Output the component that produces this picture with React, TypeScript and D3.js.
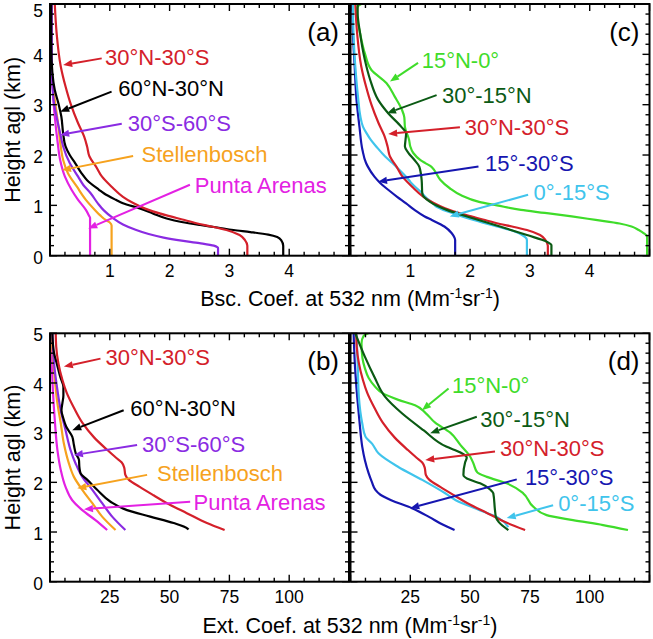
import React from 'react';
import * as d3 from 'd3';

// [height agl (km), coefficient]
type Pt = [number, number];

// ---------- Backscatter coefficient (Mm-1 sr-1) ----------
const bsc30N30S: Pt[] = [[0, 3.3], [0.2, 3.3], [0.31, 3.26], [0.41, 3.17], [0.51, 2.95], [0.58, 2.7], [0.63, 2.5], [0.71, 2.25], [0.8, 1.95], [0.88, 1.72], [0.94, 1.58], [1.04, 1.4], [1.17, 1.22], [1.37, 1.03], [1.57, 0.87], [1.77, 0.77], [1.97, 0.66], [2.17, 0.62], [2.37, 0.57], [2.63, 0.47], [3.0, 0.35], [3.36, 0.26], [3.76, 0.18], [4.43, 0.11], [5.0, 0.08]];
const bsc60N30N: Pt[] = [[0, 3.9], [0.2, 3.9], [0.3, 3.87], [0.37, 3.8], [0.42, 3.65], [0.47, 3.35], [0.51, 3.07], [0.56, 2.8], [0.61, 2.51], [0.67, 2.2], [0.74, 1.95], [0.84, 1.72], [0.94, 1.5], [1.04, 1.22], [1.11, 1.1], [1.24, 0.9], [1.31, 0.82], [1.5, 0.62], [1.65, 0.52], [1.84, 0.42], [2.0, 0.33], [2.17, 0.26], [2.43, 0.22], [2.76, 0.19], [3.03, 0.14], [3.29, 0.08], [3.63, 0.04], [4.2, 0.02], [5.0, 0.02]];
const bsc30S60S: Pt[] = [[0, 2.81], [0.15, 2.81], [0.2, 2.74], [0.25, 2.5], [0.3, 2.2], [0.36, 1.9], [0.43, 1.65], [0.52, 1.42], [0.62, 1.22], [0.75, 1.05], [0.9, 0.9], [1.04, 0.8], [1.24, 0.68], [1.4, 0.56], [1.57, 0.47], [1.84, 0.33], [2.17, 0.22], [2.43, 0.17], [2.76, 0.11], [3.09, 0.06], [3.76, 0.03], [5.0, 0.03]];
const bscStellenbosch: Pt[] = [[0, 1.03], [0.6, 1.03], [0.66, 1.0], [0.71, 0.93], [0.8, 0.84], [0.91, 0.75], [1.11, 0.6], [1.37, 0.45], [1.64, 0.3], [1.9, 0.22], [2.17, 0.18], [2.57, 0.14], [3.09, 0.08], [3.43, 0.04], [3.76, 0.02], [5.0, 0.02]];
const bscPuntaArenas: Pt[] = [[0, 0.67], [0.75, 0.67], [0.8, 0.65], [0.91, 0.6], [1.11, 0.47], [1.31, 0.36], [1.57, 0.25], [1.9, 0.17], [2.23, 0.13], [2.76, 0.08], [3.43, 0.04], [4.42, 0.01], [5.0, 0.01]];
const bsc15N0: Pt[] = [[0, 4.96], [0.38, 4.96], [0.45, 4.9], [0.51, 4.82], [0.58, 4.7], [0.64, 4.5], [0.71, 4.1], [0.78, 3.7], [0.85, 3.25], [0.91, 2.85], [1.0, 2.45], [1.07, 2.15], [1.2, 1.85], [1.34, 1.66], [1.51, 1.5], [1.7, 1.4], [1.77, 1.35], [1.84, 1.25], [1.9, 1.17], [2.04, 1.05], [2.17, 1.0], [2.3, 0.98], [2.56, 0.91], [2.75, 0.9], [2.9, 0.86], [3.16, 0.74], [3.43, 0.6], [3.69, 0.35], [4.02, 0.24], [4.42, 0.16], [4.85, 0.1], [4.95, 0.12], [5.0, 0.18]];
const bsc30S15N: Pt[] = [[0, 3.36], [0.21, 3.36], [0.28, 3.28], [0.41, 2.95], [0.58, 2.5], [0.74, 2.06], [0.91, 1.61], [1.07, 1.33], [1.24, 1.2], [1.5, 1.19], [1.77, 1.15], [1.9, 1.07], [2.04, 0.97], [2.17, 0.91], [2.3, 0.92], [2.43, 0.93], [2.56, 0.85], [2.83, 0.63], [3.1, 0.46], [3.49, 0.33], [3.89, 0.24], [4.42, 0.16], [4.82, 0.12], [5.0, 0.12]];
const bsc0S15S: Pt[] = [[0, 2.95], [0.31, 2.95], [0.41, 2.87], [0.5, 2.7], [0.58, 2.45], [0.71, 2.06], [0.84, 1.72], [0.91, 1.55], [0.97, 1.44], [1.04, 1.38], [1.17, 1.25], [1.24, 1.2], [1.44, 1.02], [1.5, 0.98], [1.7, 0.82], [1.84, 0.7], [1.97, 0.58], [2.17, 0.43], [2.3, 0.34], [2.43, 0.27], [2.56, 0.21], [2.8, 0.16], [3.1, 0.13], [3.76, 0.08], [4.42, 0.05], [5.0, 0.04]];
const bsc15S30S: Pt[] = [[0, 1.75], [0.31, 1.75], [0.38, 1.73], [0.45, 1.69], [0.58, 1.57], [0.71, 1.36], [0.78, 1.24], [0.91, 1.07], [1.04, 0.93], [1.17, 0.78], [1.31, 0.63], [1.44, 0.5], [1.57, 0.4], [1.77, 0.29], [1.84, 0.26], [2.1, 0.2], [2.56, 0.15], [3.1, 0.1], [3.76, 0.07], [4.42, 0.04], [5.0, 0.03]];

// ---------- Extinction coefficient (Mm-1) ----------
const ext30N30S: Pt[] = [[1.04, 73], [1.18, 65.6], [1.38, 57.2], [1.58, 48.9], [1.74, 43.3], [1.91, 37.5], [2.05, 33], [2.15, 31.5], [2.3, 31], [2.4, 30], [2.5, 27.5], [2.65, 24], [2.9, 18.5], [3.2, 13.5], [3.5, 10], [3.8, 7], [4.06, 5.2], [4.4, 3.5], [4.73, 2.6], [5.0, 2.4]];
const ext60N30N: Pt[] = [[1.05, 57.9], [1.07, 57.5], [1.18, 51.7], [1.31, 41.9], [1.44, 32.2], [1.61, 25.3], [1.85, 19.7], [2.05, 15.6], [2.18, 12.8], [2.3, 12.3], [2.45, 12.1], [2.58, 10.8], [2.75, 10], [2.92, 9.3], [3.12, 6.8], [3.3, 5.5], [3.45, 4.8], [3.6, 5.2], [3.75, 5.6], [3.92, 5.6], [4.12, 4.3], [4.4, 2.8], [4.6, 1.7], [4.8, 1.2], [5.0, 1.0]];
const ext30S60S: Pt[] = [[1.04, 31.5], [1.31, 26], [1.58, 21.8], [1.85, 17.7], [2.11, 13.5], [2.38, 10.7], [2.65, 8.6], [3.05, 6.5], [3.45, 4.5], [3.86, 3.1], [4.39, 1.7], [5.0, 1.0]];
const extStellenbosch: Pt[] = [[1.04, 27.4], [1.31, 21.8], [1.58, 17.7], [1.85, 13.5], [2.11, 10], [2.38, 7.9], [2.78, 5.8], [3.19, 4.5], [3.59, 3.1], [4.26, 1.7], [5.0, 0.5]];
const extPuntaArenas: Pt[] = [[1.04, 23.9], [1.24, 19], [1.44, 13.5], [1.64, 9.3], [1.91, 6.5], [2.25, 4.5], [2.65, 3.1], [3.19, 2.1], [3.86, 1.2], [5.0, 0.5]];
const ext15N0: Pt[] = [[1.04, 116], [1.14, 105.6], [1.24, 93], [1.34, 82], [1.51, 76.4], [1.78, 72.2], [1.98, 65.3], [2.11, 57], [2.2, 53], [2.38, 51.4], [2.52, 50], [2.75, 46], [3.0, 41.7], [3.2, 35.4], [3.4, 31.3], [3.55, 27], [3.66, 20], [3.8, 13.2], [3.92, 10.4], [4.1, 7.6], [4.3, 6.0], [4.5, 5.0], [4.8, 4.6], [4.95, 5.5], [5.0, 7.5]];
const ext30S15N: Pt[] = [[1.04, 66], [1.2, 62], [1.3, 60.8], [1.44, 60.4], [1.78, 59.7], [1.85, 58.5], [1.98, 54.2], [2.05, 50], [2.15, 47.2], [2.4, 47.9], [2.5, 48.6], [2.6, 46], [2.72, 40], [3.05, 30.5], [3.39, 21.5], [3.72, 14.5], [4.12, 10], [4.53, 6], [5.0, 2.0]];
const ext0S15S: Pt[] = [[1.1, 66], [1.28, 62], [1.44, 54], [1.64, 44], [1.78, 39.6], [2.05, 30], [2.31, 20], [2.58, 11.8], [2.78, 9], [2.92, 6.25], [3.19, 4.9], [3.72, 3.5], [4.4, 3.0], [5.0, 2.5]];
const ext15S30S: Pt[] = [[1.04, 43.5], [1.15, 38.5], [1.3, 33], [1.48, 25.7], [1.64, 17], [1.75, 12.5], [1.85, 10.4], [2.0, 9], [2.18, 7.6], [2.45, 6], [2.72, 4.9], [3.2, 3.8], [3.72, 2.8], [4.4, 1.8], [5.0, 1.3]];

// ---------- tick labels ----------
const heightTickLabels = [0, 1, 2, 3, 4, 5];
const bscTickLabels = [1, 2, 3, 4];
const extTickLabels = [25, 50, 75, 100];

const C = {
  red: '#d4202a',
  black: '#000000',
  purple: '#8a2be2',
  orange: '#f6a21e',
  magenta: '#e321e3',
  green: '#3fdc2a',
  dkgreen: '#0b5a14',
  blue: '#1616b0',
  lblue: '#40c4ec',
};

type Series = { data: Pt[]; color: string };
type Ann = { text: string; color: string; tv: number; th: number; sv: number; sh: number; ev: number; eh: number };

const seriesA: Series[] = [
  { data: bscPuntaArenas, color: C.magenta },
  { data: bscStellenbosch, color: C.orange },
  { data: bsc30S60S, color: C.purple },
  { data: bsc60N30N, color: C.black },
  { data: bsc30N30S, color: C.red },
];
const seriesC: Series[] = [
  { data: bsc15N0, color: C.green },
  { data: bsc15S30S, color: C.blue },
  { data: bsc0S15S, color: C.lblue },
  { data: bsc30N30S, color: C.red },
  { data: bsc30S15N, color: C.dkgreen },
];
const seriesB: Series[] = [
  { data: extPuntaArenas, color: C.magenta },
  { data: extStellenbosch, color: C.orange },
  { data: ext30S60S, color: C.purple },
  { data: ext60N30N, color: C.black },
  { data: ext30N30S, color: C.red },
];
const seriesD: Series[] = [
  { data: ext15N0, color: C.green },
  { data: ext15S30S, color: C.blue },
  { data: ext0S15S, color: C.lblue },
  { data: ext30N30S, color: C.red },
  { data: ext30S15N, color: C.dkgreen },
];

const annA: Ann[] = [
  { text: '30°N-30°S', color: C.red, tv: 0.92, th: 3.95, sv: 0.865, sh: 3.92, ev: 0.22, eh: 3.79 },
  { text: '60°N-30°N', color: C.black, tv: 1.14, th: 3.33, sv: 1.03, sh: 3.26, ev: 0.17, eh: 2.86 },
  { text: '30°S-60°S', color: C.purple, tv: 1.3, th: 2.64, sv: 1.2, sh: 2.62, ev: 0.17, eh: 2.4 },
  { text: 'Stellenbosch', color: C.orange, tv: 1.53, th: 2.02, sv: 1.39, sh: 1.98, ev: 0.2, eh: 1.7 },
  { text: 'Punta Arenas', color: C.magenta, tv: 2.42, th: 1.41, sv: 2.34, sh: 1.41, ev: 0.64, eh: 0.54 },
];
const annC: Ann[] = [
  { text: '15°N-0°', color: C.green, tv: 1.19, th: 3.89, sv: 1.13, sh: 3.83, ev: 0.66, eh: 3.46 },
  { text: '30°-15°N', color: C.dkgreen, tv: 1.53, th: 3.19, sv: 1.44, sh: 3.19, ev: 0.61, eh: 2.83 },
  { text: '30°N-30°S', color: C.red, tv: 1.91, th: 2.56, sv: 1.83, sh: 2.55, ev: 0.63, eh: 2.42 },
  { text: '15°-30°S', color: C.blue, tv: 2.25, th: 1.84, sv: 2.14, sh: 1.77, ev: 0.46, eh: 1.47 },
  { text: '0°-15°S', color: C.lblue, tv: 3.06, th: 1.27, sv: 2.97, sh: 1.21, ev: 1.66, eh: 0.78 },
];
const annB: Ann[] = [
  { text: '30°N-30°S', color: C.red, tv: 23.2, th: 4.53, sv: 21.1, sh: 4.49, ev: 5.8, eh: 4.33 },
  { text: '60°N-30°N', color: C.black, tv: 33.6, th: 3.49, sv: 30.8, sh: 3.45, ev: 9.3, eh: 3.05 },
  { text: '30°S-60°S', color: C.purple, tv: 38.5, th: 2.77, sv: 36.4, sh: 2.75, ev: 10, eh: 2.55 },
  { text: 'Stellenbosch', color: C.orange, tv: 44.75, th: 2.18, sv: 40.6, sh: 2.15, ev: 11.4, eh: 1.88 },
  { text: 'Punta Arenas', color: C.magenta, tv: 60, th: 1.61, sv: 58.6, sh: 1.61, ev: 14.2, eh: 1.46 },
];
const annD: Ann[] = [
  { text: '15°N-0°', color: C.green, tv: 42.4, th: 3.96, sv: 41, sh: 3.89, ev: 29.9, eh: 3.45 },
  { text: '30°-15°N', color: C.dkgreen, tv: 54.2, th: 3.27, sv: 52.8, sh: 3.32, ev: 33.3, eh: 2.99 },
  { text: '30°N-30°S', color: C.red, tv: 62.5, th: 2.68, sv: 60.4, sh: 2.62, ev: 31.25, eh: 2.45 },
  { text: '15°-30°S', color: C.blue, tv: 72.9, th: 2.11, sv: 69.5, sh: 2.06, ev: 25, eh: 1.48 },
  { text: '0°-15°S', color: C.lblue, tv: 86.8, th: 1.59, sv: 84.7, sh: 1.54, ev: 65.3, eh: 1.28 },
];

const FONT = '"Liberation Sans", Arial, Helvetica, sans-serif';

type PanelCfg = {
  id: string;
  letter: string;
  x0: number; x1: number; y0: number; y1: number;
  xmax: number; xMajor: number; xMinor: number; xLabels: number[];
  yLabels: boolean;
  series: Series[];
  ann: Ann[];
};

const LEFT = [50, 349];
const RIGHT = [350.5, 649.5];
const TOPR = [4, 255.7];
const BOTR = [333.3, 581.7];

const panels: PanelCfg[] = [
  { id: 'a', letter: '(a)', x0: LEFT[0], x1: LEFT[1], y0: TOPR[0], y1: TOPR[1], xmax: 5, xMajor: 1, xMinor: 0.25, xLabels: bscTickLabels, yLabels: true, series: seriesA, ann: annA },
  { id: 'c', letter: '(c)', x0: RIGHT[0], x1: RIGHT[1], y0: TOPR[0], y1: TOPR[1], xmax: 5, xMajor: 1, xMinor: 0.25, xLabels: bscTickLabels, yLabels: false, series: seriesC, ann: annC },
  { id: 'b', letter: '(b)', x0: LEFT[0], x1: LEFT[1], y0: BOTR[0], y1: BOTR[1], xmax: 125, xMajor: 25, xMinor: 6.25, xLabels: extTickLabels, yLabels: true, series: seriesB, ann: annB },
  { id: 'd', letter: '(d)', x0: RIGHT[0], x1: RIGHT[1], y0: BOTR[0], y1: BOTR[1], xmax: 125, xMajor: 25, xMinor: 6.25, xLabels: extTickLabels, yLabels: false, series: seriesD, ann: annD },
];

function Panel({ p }: { p: PanelCfg }) {
  const x = d3.scaleLinear().domain([0, p.xmax]).range([p.x0, p.x1]);
  const y = d3.scaleLinear().domain([0, 5]).range([p.y1, p.y0]);
  const line = d3
    .line<Pt>()
    .x((d) => x(d[1]))
    .y((d) => y(d[0]))
    .curve(d3.curveMonotoneY);

  const xTicks: { v: number; major: boolean }[] = [];
  const nx = Math.round(p.xmax / p.xMinor);
  for (let i = 0; i <= nx; i++) {
    const v = i * p.xMinor;
    xTicks.push({ v, major: Math.abs(v / p.xMajor - Math.round(v / p.xMajor)) < 1e-6 });
  }
  const yTicks: { v: number; major: boolean }[] = [];
  for (let i = 0; i <= 25; i++) {
    const v = i * 0.2;
    yTicks.push({ v, major: i % 5 === 0 });
  }
  const MAJ = 7;
  const MIN = 4;
  const clipId = `clip-${p.id}`;

  return (
    <g>
      <defs>
        <clipPath id={clipId}>
          <rect x={p.x0} y={p.y0} width={p.x1 - p.x0} height={p.y1 - p.y0} />
        </clipPath>
      </defs>
      <g clipPath={`url(#${clipId})`}>
        {p.series.map((s, i) => (
          <path key={i} d={line(s.data) || ''} fill="none" stroke={s.color} strokeWidth={2.2} strokeLinejoin="round" />
        ))}
      </g>
      {/* ticks */}
      <g stroke="#000" strokeWidth={1.4}>
        {xTicks.map((t, i) => {
          const L = t.major ? MAJ : MIN;
          return (
            <g key={'x' + i}>
              <line x1={x(t.v)} x2={x(t.v)} y1={p.y1} y2={p.y1 - L} />
              <line x1={x(t.v)} x2={x(t.v)} y1={p.y0} y2={p.y0 + L} />
            </g>
          );
        })}
        {yTicks.map((t, i) => {
          const L = t.major ? MAJ : MIN;
          return (
            <g key={'y' + i}>
              <line x1={p.x0} x2={p.x0 + L} y1={y(t.v)} y2={y(t.v)} />
              <line x1={p.x1} x2={p.x1 - L} y1={y(t.v)} y2={y(t.v)} />
            </g>
          );
        })}
      </g>
      <rect x={p.x0} y={p.y0} width={p.x1 - p.x0} height={p.y1 - p.y0} fill="none" stroke="#000" strokeWidth={2} />
      {/* tick labels */}
      {p.xLabels.map((v) => (
        <text key={'xl' + v} x={x(v)} y={p.y1 + 21} textAnchor="middle" fontSize={17.5} fontFamily={FONT}>
          {v}
        </text>
      ))}
      {p.yLabels &&
        heightTickLabels.map((v) => {
          const center = Math.max(y(v) + 1.5, 11);
          return (
            <text key={'yl' + v} x={p.x0 - 7} y={center + 6.3} textAnchor="end" fontSize={17.5} fontFamily={FONT}>
              {v}
            </text>
          );
        })}
      {/* annotations */}
      {p.ann.map((a, i) => {
        const sx = x(a.sv), sy = y(a.sh), ex = x(a.ev), ey = y(a.eh);
        const ang = Math.atan2(ey - sy, ex - sx);
        const AL = 9, AW = 3.6;
        const bx = ex - AL * Math.cos(ang), by = ey - AL * Math.sin(ang);
        const px = -Math.sin(ang), py = Math.cos(ang);
        const head = `${ex},${ey} ${bx + AW * px},${by + AW * py} ${bx - AW * px},${by - AW * py}`;
        return (
          <g key={'a' + i}>
            <line x1={sx} y1={sy} x2={bx} y2={by} stroke={a.color} strokeWidth={2} />
            <polygon points={head} fill={a.color} />
            <text x={x(a.tv)} y={y(a.th) + 7.9} fontSize={22} fontFamily={FONT} fill={a.color}>
              {a.text}
            </text>
          </g>
        );
      })}
      <text x={p.x1 - 10} y={p.y0 + 37} textAnchor="end" fontSize={26} fontFamily={FONT}>
        {p.letter}
      </text>
    </g>
  );
}

function XTitle({ label, yBase }: { label: string; yBase: number }) {
  return (
    <text x={350} y={yBase} textAnchor="middle" fontSize={21.5} fontFamily={FONT}>
      {label} (Mm
      <tspan dy={-8} fontSize={14}>-1</tspan>
      <tspan dy={8}>sr</tspan>
      <tspan dy={-8} fontSize={14}>-1</tspan>
      <tspan dy={8}>)</tspan>
    </text>
  );
}

export default function App() {
  return (
    <svg
      width={653}
      height={639}
      viewBox="0 0 653 639"
      style={{ position: 'absolute', left: 0, top: 0, background: '#fff' }}
    >
      <rect x={0} y={0} width={653} height={639} fill="#fff" />
      {panels.map((p) => (
        <Panel key={p.id} p={p} />
      ))}
      <XTitle label="Bsc. Coef. at 532 nm" yBase={306} />
      <XTitle label="Ext. Coef. at 532 nm" yBase={633} />
      <text transform={`translate(20,${(TOPR[0] + TOPR[1]) / 2}) rotate(-90)`} textAnchor="middle" fontSize={21.5} fontFamily={FONT}>
        Height agl (km)
      </text>
      <text transform={`translate(20,${(BOTR[0] + BOTR[1]) / 2}) rotate(-90)`} textAnchor="middle" fontSize={21.5} fontFamily={FONT}>
        Height agl (km)
      </text>
    </svg>
  );
}
